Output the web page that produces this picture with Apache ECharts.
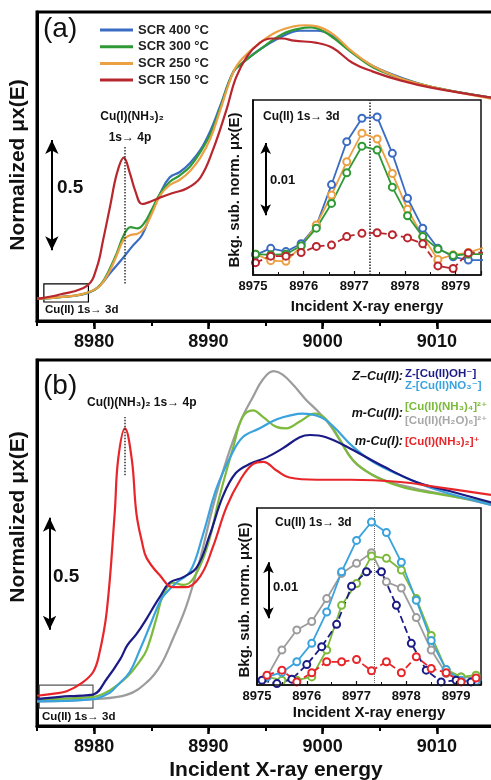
<!DOCTYPE html>
<html>
<head>
<meta charset="utf-8">
<script src="https://cdn.jsdelivr.net/npm/echarts@6/dist/echarts.min.js"></script>
<style>
  html, body { margin: 0; padding: 0; background: #fff; }
  #chart { width: 491px; height: 780px; }
</style>
</head>
<body>
<div id="chart"></div>
<script>
const FONT = 'Arial, "Liberation Sans", "DejaVu Sans", sans-serif';

// ---- panel (a): XANES under SCR, [energy eV, normalized mu(E)]
const scr400 = [[8975,0.0],[8977,0.008],[8979,0.02],[8980,0.04],[8980.8,0.077],[8981.4,0.117],[8982.6,0.19],[8983.3,0.236],[8984.2,0.29],[8985,0.39],[8985.8,0.48],[8986.6,0.55],[8987.5,0.575],[8988.4,0.616],[8989.3,0.675],[8990.2,0.765],[8991,0.87],[8992.2,1.03],[8993,1.07],[8994.5,1.13],[8996.5,1.19],[8998,1.215],[8999.5,1.215],[9000.9,1.19],[9002.6,1.116],[9004.4,1.055],[9006.8,1.004],[9009.6,0.96],[9015,0.91]];
const scr300 = [[8975,0.0],[8977,0.008],[8979,0.022],[8980.3,0.05],[8980.9,0.09],[8981.4,0.14],[8982,0.21],[8982.6,0.29],[8983.2,0.325],[8983.8,0.32],[8984.4,0.345],[8985,0.4],[8985.8,0.48],[8986.6,0.53],[8987.5,0.56],[8988.4,0.6],[8989.3,0.666],[8990.2,0.75],[8991,0.86],[8992.2,1.03],[8993,1.07],[8994.5,1.13],[8996.5,1.2],[8998,1.225],[8999,1.23],[9000,1.215],[9001,1.18],[9002.6,1.115],[9004.4,1.05],[9006.8,1.0],[9009.6,0.96],[9015,0.91]];
const scr250 = [[8975,0.0],[8977,0.008],[8979,0.022],[8980.3,0.05],[8980.9,0.085],[8981.4,0.13],[8982,0.2],[8982.6,0.27],[8983.2,0.29],[8983.8,0.295],[8984.4,0.32],[8985,0.38],[8985.8,0.47],[8986.6,0.515],[8987.5,0.54],[8988.4,0.58],[8989.3,0.64],[8990.2,0.73],[8991,0.85],[8992.2,1.03],[8993,1.09],[8994.5,1.16],[8996,1.21],[8997.5,1.235],[8998.5,1.24],[8999.5,1.235],[9000.9,1.2],[9002.6,1.12],[9004.4,1.055],[9006.8,1.0],[9009.6,0.96],[9015,0.905]];
const scr150 = [[8975,0.0],[8977,0.02],[8979.4,0.06],[8980.25,0.145],[8980.8,0.27],[8981.4,0.42],[8982,0.57],[8982.6,0.64],[8983.1,0.575],[8983.6,0.49],[8984.2,0.43],[8984.9,0.44],[8985.8,0.46],[8986.9,0.48],[8988.1,0.5],[8989.3,0.55],[8990.4,0.675],[8991.6,0.86],[8992.4,1.0],[8993.4,1.1],[8994.5,1.16],[8995.5,1.18],[8996.5,1.18],[8997.5,1.17],[8999.5,1.16],[9000.9,1.137],[9002.6,1.07],[9004.4,1.03],[9006.8,0.99],[9009.6,0.956],[9015,0.91]];

// inset (a): background subtracted pre-edge, units of 1e-3
const insetEnergyA = [8975.05,8975.35,8975.65,8975.95,8976.25,8976.55,8976.85,8977.15,8977.45,8977.75,8978.05,8978.35,8978.65,8978.95,8979.25,8979.55];
const pre400 = [-0.3,0.7,0.2,1.4,4.2,10.5,17.1,20.7,20.9,15.3,8.4,3.8,0.7,-0.6,-1.1,-1.1];
const pre300 = [-0.2,-0.3,-0.2,1.1,3.8,7.6,12.3,16.4,15.8,10.1,5.7,2.5,0.6,-0.4,-0.2,-0.2];
const pre250 = [-0.2,-1.2,-1.3,1.0,4.3,8.9,14.0,18.4,17.5,12.2,6.7,2.5,-1.0,-0.3,0.05,0.8];
const pre150 = [-1.5,-0.5,-0.5,0.05,1.0,1.2,2.5,3.0,3.1,2.8,2.3,1.4,-2.0,-2.4,0.0,0.05];

// ---- panel (b): reference compounds
const zCuOH = [[8975,0.0],[8977,0.01],[8978.5,0.015],[8979.9,0.02],[8981.1,0.09],[8982.3,0.18],[8982.9,0.24],[8983.7,0.29],[8984.6,0.36],[8985.3,0.42],[8985.8,0.46],[8986.6,0.52],[8987.8,0.545],[8989,0.59],[8990.1,0.73],[8991.3,0.91],[8992.4,1.01],[8993.6,1.05],[8995.1,1.08],[8996.5,1.12],[8998,1.17],[8998.9,1.18],[9000.3,1.17],[9002.4,1.12],[9005.3,1.04],[9008.2,0.97],[9011.1,0.93],[9015,0.875]];
const zCuNO3 = [[8975,-0.01],[8979.9,0.0],[8981.4,0.03],[8982,0.06],[8983.1,0.12],[8984,0.22],[8984.9,0.33],[8985.8,0.44],[8986.4,0.48],[8987.2,0.52],[8988.4,0.57],[8989.5,0.73],[8990.7,0.94],[8991.9,1.08],[8993,1.17],[8994.5,1.21],[8996,1.25],[8997.4,1.27],[8998.2,1.275],[8999.8,1.26],[9000.9,1.22],[9002.6,1.13],[9004.4,1.06],[9006.8,1.0],[9009.7,0.94],[9015,0.865]];
const cuNH34 = [[8975,0.0],[8979.9,0.01],[8981.4,0.04],[8982.9,0.1],[8984,0.17],[8984.6,0.22],[8985.5,0.37],[8986,0.46],[8986.9,0.52],[8987.8,0.51],[8988.7,0.54],[8989.9,0.68],[8991,0.91],[8992.2,1.13],[8993,1.26],[8993.9,1.29],[8994.8,1.26],[8996,1.215],[8996.8,1.21],[8998,1.24],[8999.3,1.275],[9000.3,1.25],[9001.5,1.16],[9002.6,1.07],[9004.4,1.0],[9006.8,0.95],[9009.7,0.92],[9015,0.875]];
const cuH2O6 = [[8975,-0.01],[8980,0.0],[8982.9,0.02],[8984.6,0.075],[8985.8,0.15],[8986.9,0.27],[8988.1,0.42],[8989.3,0.63],[8990.4,0.86],[8991.6,1.07],[8992.8,1.24],[8993.9,1.35],[8994.8,1.43],[8995.7,1.465],[8996.5,1.45],[8997.5,1.4],[8998.5,1.34],[8999.5,1.29],[9000.7,1.22],[9002.2,1.1],[9003.2,1.04],[9005.3,0.98],[9008.2,0.94],[9011.1,0.91],[9015,0.865]];
const cuINH32 = [[8975,0.015],[8976.5,0.025],[8977.6,0.035],[8979,0.075],[8979.9,0.12],[8980.4,0.19],[8981.1,0.39],[8981.8,0.83],[8982.1,1.07],[8982.7,1.21],[8983.3,1.07],[8983.7,0.83],[8984.2,0.7],[8984.6,0.63],[8985.8,0.55],[8986.9,0.5],[8988,0.5],[8989.3,0.55],[8990.4,0.68],[8991.6,0.86],[8992.8,0.98],[8993.9,1.05],[8994.8,1.06],[8996,1.02],[8997.1,0.99],[8999.5,0.98],[9002.4,0.98],[9006.8,0.97],[9009.7,0.95],[9015,0.91]];

// inset (b)
const insetEnergyB1 = [8975.1,8975.4,8975.7,8976.0,8976.3,8976.6,8976.9,8977.2,8977.5,8977.8,8978.1,8978.4,8978.7,8979.0,8979.3];
const insetEnergyB2 = [8975.2,8975.5,8975.8,8976.1,8976.4,8976.7,8977.0,8977.3,8977.6,8977.9,8978.2,8978.5,8978.8,8979.1,8979.4];
const preOH  = [-0.4,-1.0,-0.2,2.4,5.6,9.6,16.4,19.0,19.0,13.0,6.2,1.4,-0.7,-0.4,-0.7];
const preNO3 = [0.2,1.0,2.9,6.2,11.8,19.0,24.6,27.9,26.0,20.7,13.9,6.7,1.5,-0.4,-0.6];
const preH2O = [0.2,5.0,8.6,10.1,14.2,18.7,20.5,22.4,17.2,16.1,10.8,5.0,0.8,0.2,0.0];
const preNH4 = [0.2,-0.4,-0.4,0.2,5.0,13.0,16.9,21.8,21.4,19.3,14.2,7.6,1.5,0.2,0.5];
const preNH2 = [0.5,1.4,-0.7,0.95,2.9,2.9,3.3,1.3,2.9,0.95,3.8,1.7,0.95,-0.7,0.0];

const zip = (xs, ys) => xs.map((x, i) => [x, ys[i]]);
const plain = v => String(v);

function mainLine(name, data, color, idx, extra) {
  return Object.assign({
    type: 'line', name, data, xAxisIndex: idx, yAxisIndex: idx,
    showSymbol: false, smooth: 0.4, z: 2,
    lineStyle: { color, width: 2.2 }, itemStyle: { color }
  }, extra || {});
}
function insetLine(name, data, color, idx, dashed, extra) {
  return Object.assign({
    type: 'line', name, data, xAxisIndex: idx, yAxisIndex: idx,
    symbol: 'emptyCircle', symbolSize: 7, z: 6,
    lineStyle: { color, width: 1.8, type: dashed ? 'dashed' : 'solid' },
    itemStyle: { color, borderWidth: 1.8 }
  }, extra || {});
}
function seg(x1, y1, x2, y2) { return [[{ coord: [x1, y1] }, { coord: [x2, y2] }]]; }
const arrowLine = (data, size) => ({ silent: true, symbol: ['arrow', 'arrow'], symbolSize: size, label: { show: false },
  lineStyle: { color: '#000', width: 2, type: 'solid' }, data });
const dotLine = (data, color, w) => ({ silent: true, symbol: 'none', label: { show: false },
  lineStyle: { color, width: w, type: 'dotted' }, data });
const boxArea = (data, color) => ({ silent: true, label: { show: false },
  itemStyle: { color: 'rgba(0,0,0,0)', borderColor: color, borderWidth: 1.2 }, data });

function txt(x, y, text, o) {
  o = o || {};
  const font = (o.italic ? 'italic ' : '') + (o.bold === false ? 'normal ' : 'bold ') + (o.size || 12) + 'px ' + FONT;
  return { type: 'text', x, y, rotation: o.rot || 0, z: 30, silent: true,
    style: { text, fill: o.color || '#111', font, align: o.align || 'left', verticalAlign: 'middle',
      textAlign: o.align || 'left', textVerticalAlign: 'middle' } };
}

function mainX(grid) {
  return { gridIndex: grid, type: 'value', min: 8975, max: 9015, splitNumber: 4, position: 'bottom',
    axisLine: { show: true, onZero: false, lineStyle: { color: '#000', width: 3 } },
    axisTick: { show: true, length: 8, lineStyle: { color: '#000', width: 2.5 } },
    axisLabel: { fontSize: 18, fontWeight: 'bold', color: '#111', fontFamily: FONT, margin: 12,
      showMinLabel: false, showMaxLabel: false, formatter: plain },
    splitLine: { show: false } };
}
function minorX(grid) {
  return { gridIndex: grid, type: 'value', min: 8975, max: 9015, interval: 5, position: 'bottom',
    axisLine: { show: false, onZero: false },
    axisTick: { show: true, length: 5, lineStyle: { color: '#000', width: 2 } },
    axisLabel: { show: false }, splitLine: { show: false } };
}
function insetX(grid) {
  return { gridIndex: grid, type: 'value', min: 8975, max: 8979.5, interval: 1, position: 'bottom', z: 7,
    axisLine: { show: true, onZero: false, lineStyle: { color: '#111', width: 1.5 } },
    axisTick: { show: true, inside: true, length: 4, lineStyle: { color: '#111', width: 1.2 } },
    minorTick: { show: true, splitNumber: 2, length: 3, lineStyle: { color: '#111', width: 1 } },
    axisLabel: { fontSize: 13, fontWeight: 'bold', color: '#111', fontFamily: FONT, margin: 5,
      showMaxLabel: false, formatter: plain },
    splitLine: { show: false } };
}
function plainY(grid, min, max, w, z) {
  return { gridIndex: grid, type: 'value', min, max, z: z || 0,
    axisLine: { show: true, onZero: false, lineStyle: { color: '#000', width: w } },
    axisTick: { show: false }, axisLabel: { show: false }, splitLine: { show: false } };
}

const cA = { s400: '#3b6cc4', s300: '#2f9a35', s250: '#eba044', s150: '#b8262e' };
const cB = { oh: '#1b1b86', no3: '#3aa3de', nh4: '#7cba3c', h2o: '#9c9c9c', nh2: '#e8262a' };

const option = {
  animation: false,
  backgroundColor: '#fff',
  grid: [
    { left: 37, top: 12, width: 457, height: 309, show: true, borderColor: '#000', borderWidth: 3, outerBoundsMode: 'none' },
    { left: 253, top: 100, width: 228, height: 175, show: true, backgroundColor: '#fff', borderColor: '#111', borderWidth: 1.5, z: 5, outerBoundsMode: 'none' },
    { left: 37, top: 360, width: 457, height: 366, show: true, borderColor: '#000', borderWidth: 3, outerBoundsMode: 'none' },
    { left: 257, top: 508, width: 224, height: 177, show: true, backgroundColor: '#fff', borderColor: '#111', borderWidth: 1.5, z: 5, outerBoundsMode: 'none' }
  ],
  xAxis: [mainX(0), insetX(1), mainX(2), insetX(3), minorX(0), minorX(2)],
  yAxis: [plainY(0, -0.1, 1.3, 3), plainY(1, -3.4, 23.5, 1.5, 7), plainY(2, -0.12, 1.515, 3), plainY(3, -1.25, 30.4, 1.5, 7)],
  legend: {
    data: ['SCR 400 °C', 'SCR 300 °C', 'SCR 250 °C', 'SCR 150 °C'],
    orient: 'vertical', left: 95, top: 18.5, itemWidth: 33, itemHeight: 3, itemGap: 3.7,
    icon: 'rect', selectedMode: false,
    textStyle: { fontSize: 13, fontWeight: 'bold', color: '#222', fontFamily: FONT, lineHeight: 13 }
  },
  series: [
    mainLine('SCR 400 °C', scr400, cA.s400, 0, { markLine: arrowLine(seg(8976.3, 0.22, 8976.3, 0.72), [10, 14]) }),
    mainLine('SCR 300 °C', scr300, cA.s300, 0, { markArea: boxArea(seg(8975.6, -0.014, 8979.5, 0.068), '#000') }),
    mainLine('SCR 250 °C', scr250, cA.s250, 0),
    mainLine('SCR 150 °C', scr150, cA.s150, 0, { markLine: dotLine(seg(8982.7, 0.07, 8982.7, 0.69), '#333', 1.5) }),

    insetLine('SCR 400 °C', zip(insetEnergyA, pre400), cA.s400, 1, false, { markLine: dotLine([{ xAxis: 8977.3 }], '#222', 1.5) }),
    insetLine('SCR 250 °C', zip(insetEnergyA, pre250), cA.s250, 1, false),
    insetLine('SCR 300 °C', zip(insetEnergyA, pre300), cA.s300, 1, false, { markLine: arrowLine(seg(8975.25, 5.8, 8975.25, 16.9), [8, 11]) }),
    insetLine('SCR 150 °C', zip(insetEnergyA, pre150), cA.s150, 1, true),

    mainLine('[Cu(II)(H2O)6]2+', cuH2O6, cB.h2o, 2, { markArea: boxArea(seg(8975.2, -0.04, 8979.9, 0.0625), '#555') }),
    mainLine('[Cu(II)(NH3)4]2+', cuNH34, cB.nh4, 2),
    mainLine('Z-[Cu(II)NO3-]', zCuNO3, cB.no3, 2),
    mainLine('Z-[Cu(II)OH-]', zCuOH, cB.oh, 2, { markLine: arrowLine(seg(8976.1, 0.31, 8976.1, 0.81), [10, 14]) }),
    mainLine('[Cu(I)(NH3)2]+', cuINH32, cB.nh2, 2, { markLine: dotLine(seg(8982.65, 1.0, 8982.65, 1.26), '#333', 1.5) }),

    insetLine('[Cu(II)(H2O)6]2+', zip(insetEnergyB2, preH2O), cB.h2o, 3, false),
    insetLine('[Cu(II)(NH3)4]2+', zip(insetEnergyB2, preNH4), cB.nh4, 3, false),
    insetLine('Z-[Cu(II)NO3-]', zip(insetEnergyB2, preNO3), cB.no3, 3, false, { markLine: dotLine([{ xAxis: 8977.35 }], '#666', 1) }),
    insetLine('Z-[Cu(II)OH-]', zip(insetEnergyB1, preOH), cB.oh, 3, true, { markLine: arrowLine(seg(8975.23, 10.7, 8975.23, 20.7), [8, 11]) }),
    insetLine('[Cu(I)(NH3)2]+', zip(insetEnergyB2, preNH2), cB.nh2, 3, true)
  ],
  graphic: [
    txt(43, 29, '(a)', { size: 28, bold: false }),
    txt(43, 386, '(b)', { size: 28, bold: false }),
    txt(18, 165, 'Normalized μx(E)', { size: 21, align: 'center', rot: Math.PI / 2 }),
    txt(18, 517, 'Normalized μx(E)', { size: 21, align: 'center', rot: Math.PI / 2 }),
    txt(276, 770, 'Incident X-ray energy', { size: 21, align: 'center' }),

    txt(132, 117, 'Cu(I)(NH₃)₂', { size: 12, align: 'center' }),
    txt(130, 138, '1s→ 4p', { size: 12, align: 'center' }),
    txt(57, 188, '0.5', { size: 19 }),
    txt(45, 310, 'Cu(II) 1s→ 3d', { size: 11.5 }),
    txt(263, 117, 'Cu(II) 1s→ 3d', { size: 12 }),
    txt(270, 180, '0.01', { size: 13 }),
    txt(235, 190, 'Bkg. sub. norm. μx(E)', { size: 15, align: 'center', rot: Math.PI / 2 }),
    txt(367, 307, 'Incident X-ray energy', { size: 15, align: 'center' }),

    txt(87, 403, 'Cu(I)(NH₃)₂ 1s→ 4p', { size: 12 }),
    txt(53, 577, '0.5', { size: 19 }),
    txt(42, 717, 'Cu(II) 1s→ 3d', { size: 11.5 }),
    txt(275, 523, 'Cu(II) 1s→ 3d', { size: 12 }),
    txt(273, 587, '0.01', { size: 13 }),
    txt(245, 600, 'Bkg. sub. norm. μx(E)', { size: 15, align: 'center', rot: Math.PI / 2 }),
    txt(369, 713, 'Incident X-ray energy', { size: 15, align: 'center' }),

    txt(403, 377, 'Z–Cu(II):', { size: 12.5, italic: true, align: 'right' }),
    txt(405, 374, 'Z-[Cu(II)OH⁻]', { size: 11.5, color: cB.oh }),
    txt(405, 386, 'Z-[Cu(II)NO₃⁻]', { size: 11.5, color: cB.no3 }),
    txt(403, 414, 'm-Cu(II):', { size: 12.5, italic: true, align: 'right' }),
    txt(405, 407, '[Cu(II)(NH₃)₄]²⁺', { size: 11.5, color: cB.nh4 }),
    txt(405, 421, '[Cu(II)(H₂O)₆]²⁺', { size: 11.5, color: '#a8a8a8' }),
    txt(403, 442, 'm-Cu(I):', { size: 12.5, italic: true, align: 'right' }),
    txt(405, 442, '[Cu(I)(NH₃)₂]⁺', { size: 11.5, color: cB.nh2 })
  ]
};

const chart = echarts.init(document.getElementById('chart'), null, { renderer: 'canvas' });
chart.setOption(option);
</script>
</body>
</html>
